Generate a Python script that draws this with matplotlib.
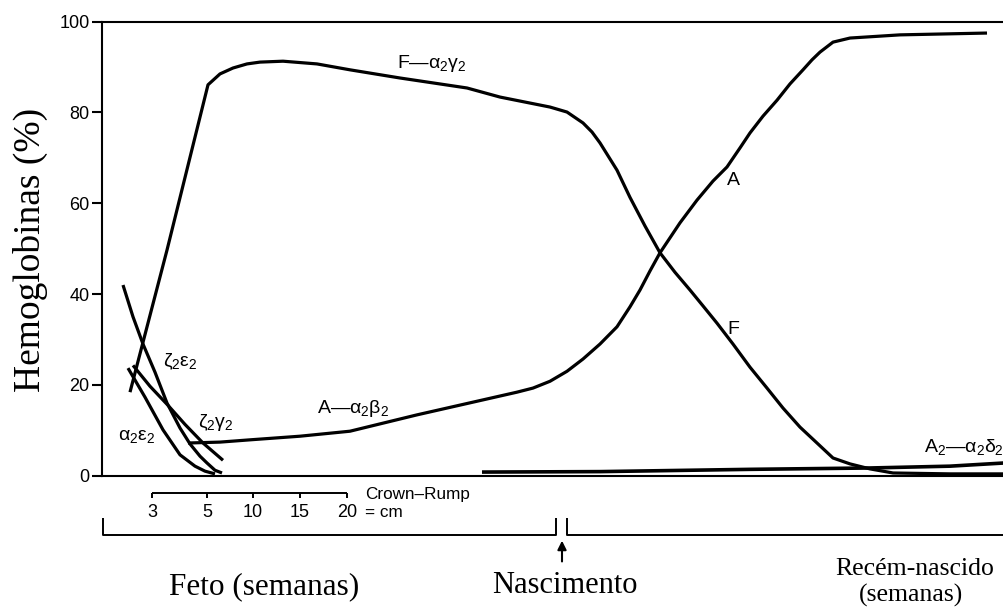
import matplotlib
matplotlib.use("Agg")
import matplotlib.pyplot as plt

plt.rcParams['font.family'] = ['Liberation Sans', 'DejaVu Sans']
plt.rcParams['mathtext.fontset'] = 'custom'
plt.rcParams['mathtext.rm'] = 'Liberation Sans'
plt.rcParams['mathtext.it'] = 'Liberation Sans'
plt.rcParams['mathtext.bf'] = 'Liberation Sans:bold'

# ---- data (x: time axis, arbitrary units; y: % hemoglobin) ----
f_x = [130, 167, 208, 220, 233, 247, 260, 283, 317, 350, 400, 467, 500, 550, 567, 575, 583,
       592, 600, 617, 630, 645, 660, 675, 690, 703, 717, 733, 750, 767, 783, 800, 817,
       833, 850, 870, 893, 950, 1004]
f_y = [18.4, 49.7, 86.1, 88.5, 89.8, 90.7, 91.1, 91.3, 90.7, 89.4, 87.6, 85.4, 83.4, 81.2,
       80.1, 78.9, 77.7, 75.7, 73.3, 67.3, 61.3, 55.0, 49.1, 44.8, 40.9, 37.4, 33.6, 29.0,
       23.9, 19.3, 14.9, 10.7, 7.2, 3.9, 2.6, 1.5, 0.6, 0.4, 0.4]

a_x = [188, 220, 250, 300, 350, 417, 483, 517, 533, 550, 567, 583, 600, 617, 630, 640, 650,
       660, 680, 697, 713, 727, 740, 750, 763, 777, 790, 803, 812, 820, 833, 850, 900, 987]
a_y = [7.2, 7.4, 7.9, 8.7, 9.8, 13.4, 16.7, 18.4, 19.3, 20.8, 23.0, 25.7, 29.0, 32.8, 37.2,
       40.9, 45.1, 49.1, 55.7, 60.7, 64.9, 68.0, 72.2, 75.5, 79.2, 82.7, 86.3, 89.4,
       91.6, 93.3, 95.5, 96.4, 97.1, 97.5]

ze_x = [123, 133, 143, 155, 167, 180, 190, 200, 207, 215, 222]
ze_y = [42.0, 35.0, 29.0, 22.8, 16.0, 10.5, 7.0, 4.3, 2.8, 1.2, 0.6]

zg_x = [133, 150, 168, 185, 203, 223]
zg_y = [24.3, 19.7, 15.5, 11.3, 7.2, 3.4]

ae_x = [128, 145, 163, 180, 195, 205, 215]
ae_y = [23.7, 17.3, 10.1, 4.6, 2.1, 1.0, 0.4]

a2_x = [482, 600, 750, 870, 950, 1004]
a2_y = [0.8, 0.9, 1.4, 1.7, 2.1, 2.8]

y_ticks = [0, 20, 40, 60, 80, 100]
cr_pos = [152, 207, 253, 300, 347]
cr_labels = ["3", "5", "10", "15", "20"]

# ---- figure ----
W, H = 1004, 607
fig = plt.figure(figsize=(W / 100, H / 100), dpi=100)
ax = fig.add_axes([102 / W, (H - 475.7) / H, (W - 102) / W, 454 / H])
ax.set_xlim(102, 1004)
ax.set_ylim(0, 100)

lw = 2.3
for xs, ys in [(f_x, f_y), (a_x, a_y), (ze_x, ze_y), (zg_x, zg_y), (ae_x, ae_y)]:
    ax.plot(xs, ys, color='black', lw=lw, solid_joinstyle='round', solid_capstyle='butt')
ax.plot(a2_x, a2_y, color='black', lw=2.6, solid_capstyle='butt')

for s in ['left', 'top', 'bottom']:
    ax.spines[s].set_linewidth(1.5)
ax.spines['right'].set_visible(False)
ax.set_xticks([])
ax.set_yticks(y_ticks)
ax.tick_params(axis='y', direction='out', length=7, width=1.5, pad=2, labelsize=13)

# curve labels
ts = 14
ax.text(397, 89.8, 'F—$\\alpha_2\\gamma_2$', fontsize=ts, va='baseline', ha='left')
ax.text(727, 64.0, 'A', fontsize=ts, va='baseline', ha='left')
ax.text(727, 31.3, 'F', fontsize=ts, va='baseline', ha='left')
ax.text(317, 13.8, 'A—$\\alpha_2\\beta_2$', fontsize=ts, va='baseline', ha='left')
ax.text(163, 24.0, '$\\zeta_2\\varepsilon_2$', fontsize=ts, va='baseline', ha='left')
ax.text(198, 10.7, '$\\zeta_2\\gamma_2$', fontsize=ts, va='baseline', ha='left')
ax.text(118, 7.8, '$\\alpha_2\\varepsilon_2$', fontsize=ts, va='baseline', ha='left')
ax.text(1004, 5.2, 'A$_2$—$\\alpha_2\\delta_2$', fontsize=ts, va='baseline', ha='right',
        clip_on=False)

# y label
fig.text(30 / W, 1 - 250 / H, 'Hemoglobinas (%)', rotation=90, ha='center', va='center',
         fontsize=27, family='Liberation Serif')

# ---- bottom annotations (below the axis, in data units) ----
kw = dict(color='black', lw=1.4, clip_on=False, solid_capstyle='butt')
y_cr = -3.8
ax.plot([cr_pos[0], cr_pos[-1]], [y_cr, y_cr], **kw)
for p in cr_pos:
    ax.plot([p, p], [y_cr, y_cr - 1.2], **kw)
for p, lab in zip(cr_pos, cr_labels):
    ax.text(p, -8.0, lab, ha='center', va='center', fontsize=13)
ax.text(365, -4.2, 'Crown–Rump', ha='left', va='center', fontsize=12.3)
ax.text(365, -8.2, '= cm', ha='left', va='center', fontsize=12.3)

ax.plot([103, 103, 556, 556], [-9.3, -13.1, -13.1, -9.3], **kw)
ax.plot([567, 567, 1004], [-9.3, -13.1, -13.1], **kw)
ax.annotate('', xy=(562, -13.7), xytext=(562, -19.5),
            arrowprops=dict(arrowstyle='-|>', lw=1.5, color='black', mutation_scale=13),
            annotation_clip=False)

ax.text(264, -24.5, 'Feto (semanas)', ha='center', va='center', fontsize=22.5,
        family='Liberation Serif')
ax.text(565, -24.2, 'Nascimento', ha='center', va='center', fontsize=22,
        family='Liberation Serif')
ax.text(915, -20.6, 'Recém-nascido', ha='center', va='center', fontsize=18.5,
        family='Liberation Serif')
ax.text(911, -26.4, '(semanas)', ha='center', va='center', fontsize=18.5,
        family='Liberation Serif')

fig.savefig('out.png', dpi=100)
